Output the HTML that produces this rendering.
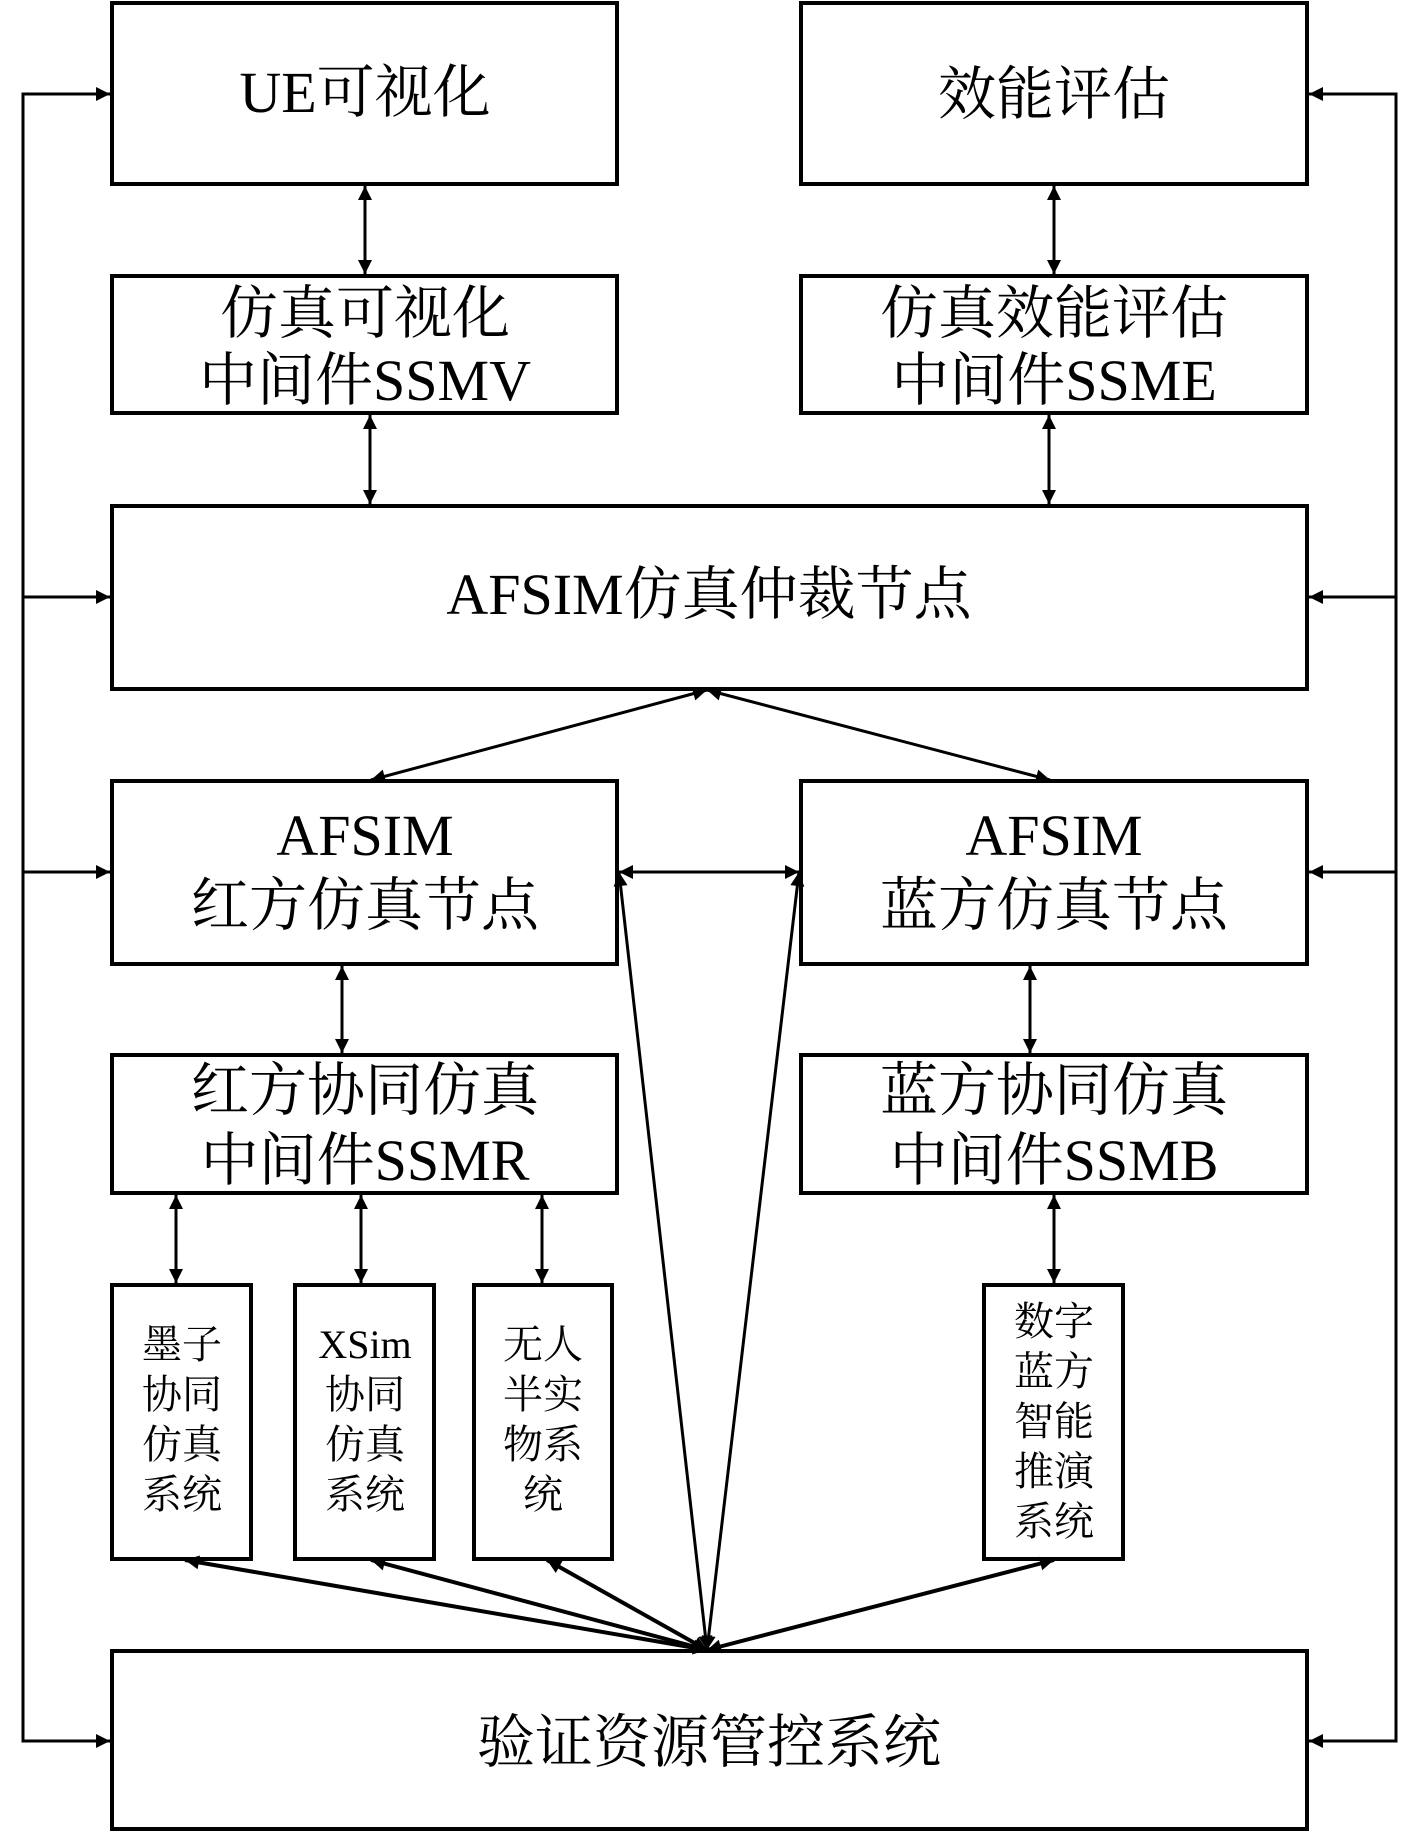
<!DOCTYPE html>
<html><head><meta charset="utf-8"><style>
html,body{margin:0;padding:0;background:#fff}
svg text{font-family:"Liberation Serif","Noto Serif CJK SC","Noto Sans CJK SC",serif;fill:#000;text-anchor:middle}
</style></head><body>
<svg width="1417" height="1833" viewBox="0 0 1417 1833" xmlns="http://www.w3.org/2000/svg">
<defs>
<marker id="b" viewBox="0 0 10 10" refX="10" refY="5" markerWidth="18" markerHeight="14" orient="auto-start-reverse" markerUnits="userSpaceOnUse">
<path d="M0,0 L10,5 L0,10 z" fill="#000"/></marker>
</defs>
<g fill="none" stroke="#000" stroke-width="4">
<rect x="112" y="3" width="505" height="181"/>
<rect x="801" y="3" width="506" height="181"/>
<rect x="112" y="276" width="505" height="137"/>
<rect x="801" y="276" width="506" height="137"/>
<rect x="112" y="506" width="1195" height="183"/>
<rect x="112" y="781" width="505" height="183"/>
<rect x="801" y="781" width="506" height="183"/>
<rect x="112" y="1055" width="505" height="138"/>
<rect x="801" y="1055" width="506" height="138"/>
<rect x="112" y="1285" width="139" height="274"/>
<rect x="295" y="1285" width="139" height="274"/>
<rect x="474" y="1285" width="138" height="274"/>
<rect x="984" y="1285" width="139" height="274"/>
<rect x="112" y="1651" width="1195" height="178"/>
</g>
<g fill="none" stroke="#000" stroke-width="3">
<polyline points="110,94 23,94 23,1741 110,1741" marker-start="url(#b)" marker-end="url(#b)"/>
<line x1="23" y1="597" x2="110" y2="597" marker-end="url(#b)"/>
<line x1="23" y1="872" x2="110" y2="872" marker-end="url(#b)"/>
<polyline points="1309,94 1396,94 1396,1741 1309,1741" marker-start="url(#b)" marker-end="url(#b)"/>
<line x1="1396" y1="597" x2="1309" y2="597" marker-end="url(#b)"/>
<line x1="1396" y1="872" x2="1309" y2="872" marker-end="url(#b)"/>
</g>
<g stroke="#000" stroke-width="3" fill="none">
<line x1="365" y1="186" x2="365" y2="274" marker-start="url(#b)" marker-end="url(#b)"/>
<line x1="1054" y1="186" x2="1054" y2="274" marker-start="url(#b)" marker-end="url(#b)"/>
<line x1="370" y1="415" x2="370" y2="504" marker-start="url(#b)" marker-end="url(#b)"/>
<line x1="1049" y1="415" x2="1049" y2="504" marker-start="url(#b)" marker-end="url(#b)"/>
<line x1="342" y1="966" x2="342" y2="1053" marker-start="url(#b)" marker-end="url(#b)"/>
<line x1="1030" y1="966" x2="1030" y2="1053" marker-start="url(#b)" marker-end="url(#b)"/>
<line x1="176" y1="1195" x2="176" y2="1283" marker-start="url(#b)" marker-end="url(#b)"/>
<line x1="361" y1="1195" x2="361" y2="1283" marker-start="url(#b)" marker-end="url(#b)"/>
<line x1="542" y1="1195" x2="542" y2="1283" marker-start="url(#b)" marker-end="url(#b)"/>
<line x1="1054" y1="1195" x2="1054" y2="1283" marker-start="url(#b)" marker-end="url(#b)"/>
<line x1="619" y1="872" x2="799" y2="872" marker-start="url(#b)" marker-end="url(#b)"/>
<line x1="707" y1="690" x2="371" y2="780" marker-start="url(#b)" marker-end="url(#b)"/>
<line x1="707" y1="690" x2="1050" y2="780" marker-start="url(#b)" marker-end="url(#b)"/>
<line x1="707" y1="1650" x2="619" y2="872" marker-start="url(#b)" marker-end="url(#b)"/>
<line x1="707" y1="1650" x2="799" y2="872" marker-start="url(#b)" marker-end="url(#b)"/>
<line x1="707" y1="1650" x2="185" y2="1560" marker-start="url(#b)" marker-end="url(#b)" stroke-width="4"/>
<line x1="707" y1="1650" x2="371" y2="1560" marker-start="url(#b)" marker-end="url(#b)" stroke-width="4"/>
<line x1="707" y1="1650" x2="547" y2="1560" marker-start="url(#b)" marker-end="url(#b)" stroke-width="4"/>
<line x1="707" y1="1650" x2="1054" y2="1560" marker-start="url(#b)" marker-end="url(#b)" stroke-width="4"/>
</g>
<g font-size="58">
<text x="365" y="112">UE可视化</text>
<text x="1054" y="114">效能评估</text>
<text x="365" y="333">仿真可视化</text>
<text x="365" y="400">中间件SSMV</text>
<text x="1054" y="333">仿真效能评估</text>
<text x="1054" y="400">中间件SSME</text>
<text x="709" y="614">AFSIM仿真仲裁节点</text>
<text x="365" y="855">AFSIM</text>
<text x="365" y="925">红方仿真节点</text>
<text x="1054" y="855">AFSIM</text>
<text x="1054" y="925">蓝方仿真节点</text>
<text x="365" y="1110">红方协同仿真</text>
<text x="365" y="1180">中间件SSMR</text>
<text x="1054" y="1110">蓝方协同仿真</text>
<text x="1054" y="1180">中间件SSMB</text>
<text x="709" y="1762">验证资源管控系统</text>
</g>
<g font-size="40">
<text x="182" y="1358">墨子</text><text x="182" y="1408">协同</text><text x="182" y="1458">仿真</text><text x="182" y="1508">系统</text>
<text x="365" y="1358">XSim</text><text x="365" y="1408">协同</text><text x="365" y="1458">仿真</text><text x="365" y="1508">系统</text>
<text x="543" y="1358">无人</text><text x="543" y="1408">半实</text><text x="543" y="1458">物系</text><text x="543" y="1508">统</text>
<text x="1054" y="1335">数字</text><text x="1054" y="1385">蓝方</text><text x="1054" y="1435">智能</text><text x="1054" y="1485">推演</text><text x="1054" y="1535">系统</text>
</g>
</svg>
</body></html>
